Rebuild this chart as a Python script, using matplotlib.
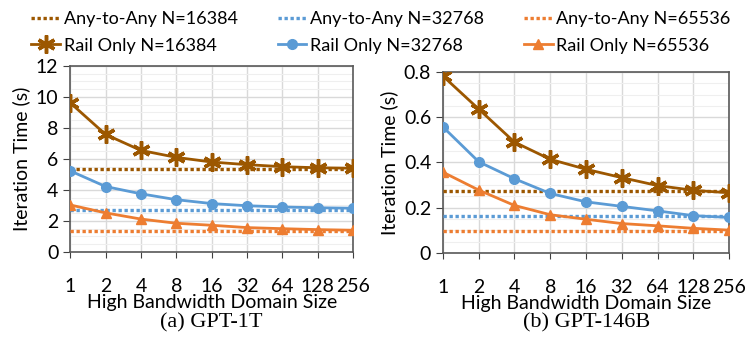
import matplotlib
matplotlib.use("Agg")
import matplotlib.pyplot as plt
from matplotlib.ticker import MultipleLocator
import numpy as np

plt.rcParams["font.family"] = ["Lato", "DejaVu Sans"]

domain_sizes = ["1", "2", "4", "8", "16", "32", "64", "128", "256"]

# GPT-1T
rail_1t_16384 = [9.62, 7.58, 6.55, 6.1, 5.8, 5.63, 5.5, 5.43, 5.4]
rail_1t_32768 = [5.23, 4.22, 3.75, 3.37, 3.12, 2.98, 2.9, 2.85, 2.82]
rail_1t_65536 = [3.03, 2.52, 2.12, 1.85, 1.72, 1.57, 1.5, 1.44, 1.4]
any_1t = [5.33, 2.72, 1.35]

# GPT-146B
rail_146b_16384 = [0.782, 0.636, 0.49, 0.414, 0.37, 0.333, 0.298, 0.277, 0.266]
rail_146b_32768 = [0.557, 0.403, 0.328, 0.263, 0.226, 0.206, 0.186, 0.165, 0.157]
rail_146b_65536 = [0.357, 0.278, 0.21, 0.169, 0.149, 0.13, 0.12, 0.109, 0.101]
any_146b = [0.275, 0.163, 0.098]

n_labels = ["16384", "32768", "65536"]
colors = ["#9C5700", "#5B9BD5", "#ED7D31"]
markers = [(6, 2, 0), "o", "^"]
msizes = [13, 7, 7]

fig = plt.figure(figsize=(7.47, 3.47), dpi=100)
ax1 = fig.add_axes([0.094, 0.274, 0.3786, 0.536])
ax2 = fig.add_axes([0.593, 0.271, 0.383, 0.5215])

x = np.arange(len(domain_sizes))


def draw(ax, rails, anys, ymax, major, minor, fmt):
    handles = []
    for rail, flat, c, m, ms, n in zip(rails, anys, colors, markers, msizes, n_labels):
        h1, = ax.plot(x, [flat] * len(x), ls=(0, (1, 0.8)), lw=2.4, color=c,
                      label="Any-to-Any N=" + n, zorder=3)
        h2, = ax.plot(x, rail, color=c, lw=2, marker=m, ms=ms, mew=2.5 if ms > 10 else 1,
                      label="Rail Only N=" + n, zorder=4)
        handles += [h1, h2]
    ax.set_xlim(0, len(x) - 1)
    ax.set_ylim(0, ymax)
    ax.set_xticks(x)
    ax.set_xticklabels(domain_sizes)
    ax.yaxis.set_major_locator(MultipleLocator(major))
    ax.yaxis.set_minor_locator(MultipleLocator(minor))
    ax.yaxis.set_major_formatter(fmt)
    ax.grid(True, which="major", color="#d9d9d9", lw=1)
    ax.grid(True, which="minor", axis="y", color="#efefef", lw=0.8)
    ax.set_axisbelow(True)
    ax.tick_params(axis="y", which="minor", left=False)
    ax.tick_params(axis="x", direction="out", length=4, pad=15, labelsize=14, color="#404040")
    ax.tick_params(axis="y", direction="out", length=5, labelsize=14, color="#404040")
    for s in ax.spines.values():
        s.set_color("#595959")
        s.set_linewidth(1.2)
    ax.set_ylabel("Iteration Time (s)", fontsize=14, labelpad=4)
    ax.set_xlabel("High Bandwidth Domain Size", fontsize=14, labelpad=-1)
    return handles


handles = draw(ax1, [rail_1t_16384, rail_1t_32768, rail_1t_65536], any_1t,
               12, 2, 0.5, lambda v, p: "%d" % v)
draw(ax2, [rail_146b_16384, rail_146b_32768, rail_146b_65536], any_146b,
     0.8, 0.2, 0.05, lambda v, p: "0" if v == 0 else "%.1f" % v)

fig.text(0.283, 0.07, "(a) GPT-1T", ha="center", va="center", fontsize=16,
         family="Liberation Serif")
fig.text(0.785, 0.07, "(b) GPT-146B", ha="center", va="center", fontsize=16,
         family="Liberation Serif")

fig.legend(handles=handles, ncol=3, loc="upper center", bbox_to_anchor=(0.51, 1.005),
           frameon=False, fontsize=13, handlelength=1.6, handletextpad=0.2,
           columnspacing=2.2, labelspacing=0.6, borderaxespad=0.3)

fig.savefig("out.png", dpi=100)
